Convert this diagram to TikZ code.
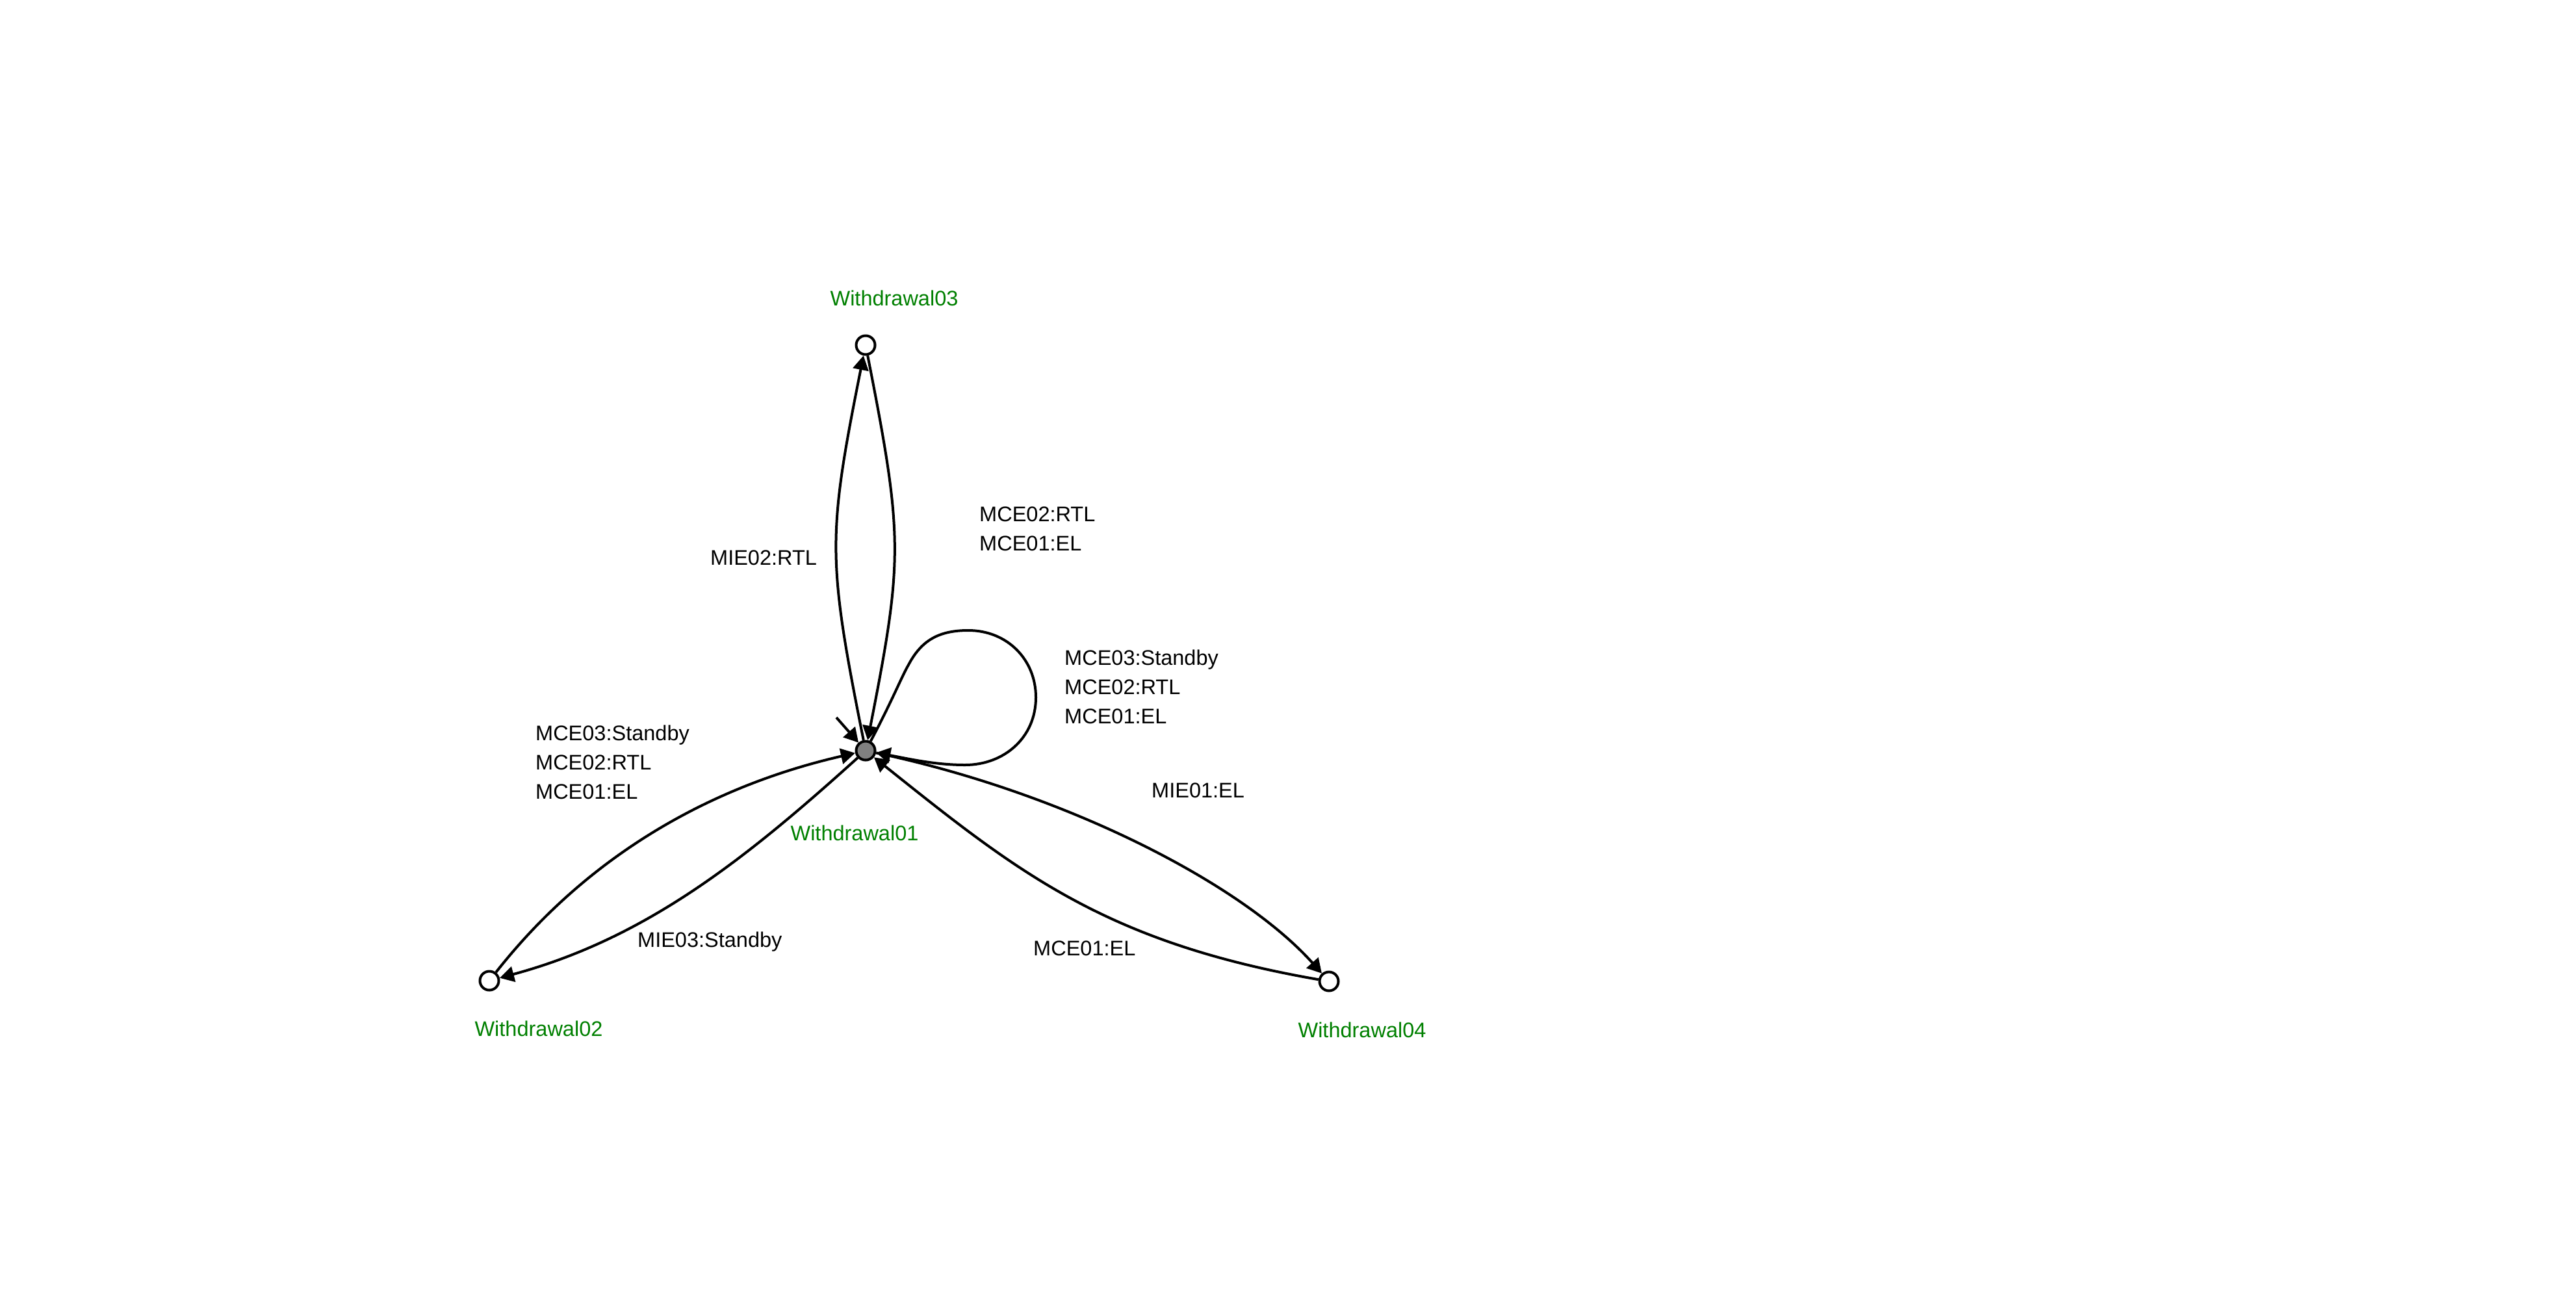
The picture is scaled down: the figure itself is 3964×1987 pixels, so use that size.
\documentclass[tikz,border=0pt]{standalone}
\usepackage{fontspec}
\setmainfont{Liberation Sans}
\usetikzlibrary{arrows.meta}
\definecolor{lblgreen}{RGB}{0,128,0}
\definecolor{initgray}{RGB}{128,128,128}
\begin{document}
\begin{tikzpicture}[x=1pt,y=1pt,
  state/.style={circle, draw=black, line width=4pt, minimum size=29pt, inner sep=0pt, fill=white},
  initstate/.style={state, fill=initgray},
  edge/.style={line width=4pt, -{Triangle[length=22pt,width=24pt]}},
  lbl/.style={font=\fontsize{32.5}{45}\selectfont, inner sep=0pt, align=left, anchor=west},
  sname/.style={font=\fontsize{32.5}{45}\selectfont, inner sep=0pt, text=lblgreen}]
\useasboundingbox[fill=white] (0,0) rectangle (3964,-1987);

% states
\node[initstate] (W01) at (1332,-1155) {};
\node[state] (W03) at (1332,-531) {};
\node[state] (W02) at (753,-1509) {};
\node[state] (W04) at (2045,-1510) {};

% state names
\node[sname] (n03) at (1376,-459) {Withdrawal03};
\node[sname] (n01) at (1315,-1282) {Withdrawal01};
\node[sname] (n02) at (829,-1583) {Withdrawal02};
\node[sname] (n04) at (2096,-1585) {Withdrawal04};

% initial arrow
\coordinate (init) at (1287,-1104);
\draw[edge] (init) -- (W01);

% W01 <-> W03
\draw[edge] (W01) .. controls (1273,-860) and (1273,-826) .. (W03);
\draw[edge] (W03) .. controls (1390,-826) and (1390,-860) .. (W01);

% self loop
\draw[edge] (W01) .. controls (1372,-1080) and (1388,-1040) .. (1398,-1023)
  .. controls (1418,-985) and (1445,-970) .. (1490,-970)
  .. controls (1550,-970) and (1594,-1015) .. (1594,-1073)
  .. controls (1594,-1135) and (1545,-1177) .. (1485,-1177)
  .. controls (1440,-1177) and (1400,-1168) .. (W01);

% W01 <-> W02
\draw[edge] (W02) .. controls (896,-1327) and (1079,-1213) .. (W01);
\draw[edge] (W01) .. controls (1147,-1322) and (994,-1444) .. (W02);

% W01 <-> W04
\draw[edge] (W01) .. controls (1640,-1220) and (1911,-1360) .. (W04);
\draw[edge] (W04) .. controls (1700,-1450) and (1566,-1342) .. (W01);

% edge labels
\node[lbl] (l1) at (1093,-858) {MIE02:RTL};
\node[lbl] (l2) at (1507,-814) {MCE02:RTL\\MCE01:EL};
\node[lbl] (l3) at (1638,-1057) {MCE03:Standby\\MCE02:RTL\\MCE01:EL};
\node[lbl] (l4) at (824,-1173) {MCE03:Standby\\MCE02:RTL\\MCE01:EL};
\node[lbl] (l5) at (981,-1449) {MIE03:Standby};
\node[lbl] (l6) at (1772,-1216) {MIE01:EL};
\node[lbl] (l7) at (1590,-1459) {MCE01:EL};
\end{tikzpicture}
\end{document}
